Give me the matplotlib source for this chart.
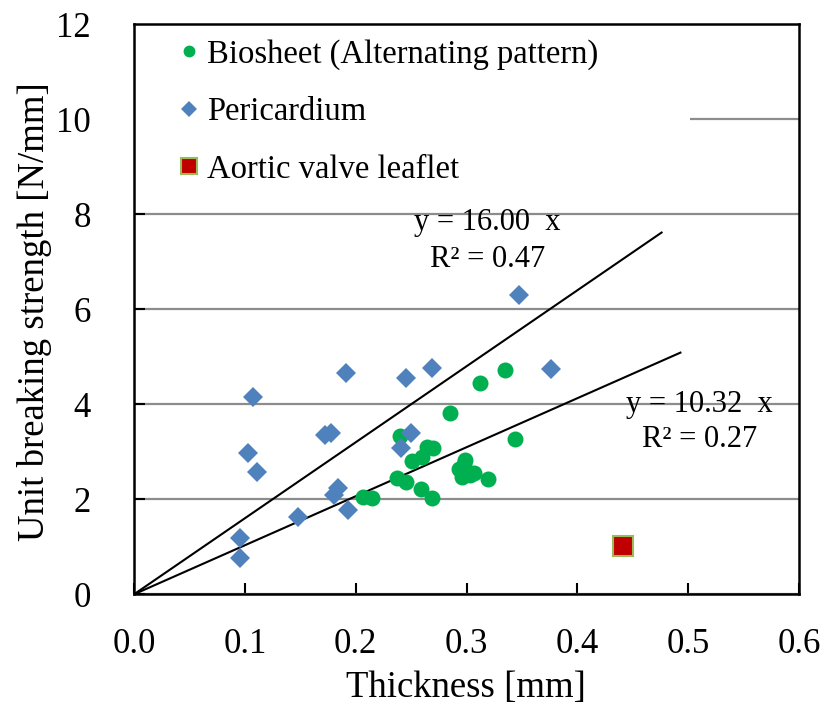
"""
Unit breaking strength vs thickness scatter chart.
"""

import matplotlib
matplotlib.use("Agg")
import matplotlib.pyplot as plt

plt.rcParams["font.family"] = ["Liberation Serif", "DejaVu Serif"]

# Biosheet (Alternating pattern)
bio_x = [0.335, 0.3125, 0.285, 0.3435, 0.240, 0.264, 0.270, 0.251, 0.260, 0.299,
         0.293, 0.296, 0.303, 0.307, 0.319, 0.237, 0.245, 0.259, 0.269, 0.207,
         0.215, 0.298]
bio_y = [4.72, 4.45, 3.82, 3.26, 3.33, 3.11, 3.07, 2.81, 2.90, 2.83,
         2.63, 2.46, 2.52, 2.56, 2.42, 2.44, 2.37, 2.22, 2.02, 2.05,
         2.02, 2.75]

# Pericardium
peri_x = [0.107, 0.103, 0.111, 0.096, 0.096, 0.172, 0.178, 0.184, 0.180,
          0.148, 0.193, 0.250, 0.241, 0.191, 0.245, 0.269, 0.376, 0.347]
peri_y = [4.16, 2.98, 2.58, 1.18, 0.76, 3.35, 3.39, 2.23, 2.09,
          1.63, 1.77, 3.39, 3.09, 4.65, 4.55, 4.76, 4.74, 6.30]

# Aortic valve leaflet
aortic_x = [0.441]
aortic_y = [1.02]

# Trend lines through origin
slopes = [16.00, 10.32]
r2_values = [0.47, 0.27]
line_x_end = [0.476, 0.493]

x_ticks = [0.0, 0.1, 0.2, 0.3, 0.4, 0.5, 0.6]
y_ticks = [0, 2, 4, 6, 8, 10, 12]

fig = plt.figure(figsize=(8.22, 7.11), dpi=100)
ax = fig.add_axes([134 / 822, 1 - 594.3 / 711, 665 / 822, 570 / 711])

ax.set_xlim(0, 0.6)
ax.set_ylim(0, 12)
ax.set_xticks(x_ticks)
ax.set_xticklabels([f"{v:.1f}" for v in x_ticks])
ax.set_yticks(y_ticks)
ax.set_yticklabels([str(v) for v in y_ticks])
ax.tick_params(axis="x", direction="in", length=8, width=1.5, pad=24, labelsize=25)
ax.tick_params(axis="y", direction="in", length=8, width=1.5, pad=31, labelsize=25)

ax.set_axisbelow(True)
ax.yaxis.grid(True, color="#8c8c8c", linewidth=1.6)
for spine in ax.spines.values():
    spine.set_linewidth(1.8)
    spine.set_color("black")

# trend lines
for slope, x_end in zip(slopes, line_x_end):
    ax.plot([0, x_end], [0, slope * x_end], color="black", linewidth=1.5, zorder=2)

ax.plot(bio_x, bio_y, linestyle="none", marker="o", markersize=11.5,
        color="#00b050", markeredgewidth=0, label="Biosheet (Alternating pattern)", zorder=3)
ax.plot(peri_x, peri_y, linestyle="none", marker="D", markersize=10,
        color="#4f81bd", markeredgewidth=0, label="Pericardium", zorder=3)
ax.plot(aortic_x, aortic_y, linestyle="none", marker="s", markersize=15,
        markerfacecolor="#c00000", markeredgecolor="#9bbb59", markeredgewidth=1.5,
        label="Aortic valve leaflet", zorder=3)

ax.text(0.319, 7.82, f"y = {slopes[0]:.2f}  x", fontsize=22, ha="center", va="center")
ax.text(0.319, 7.04, f"R² = {r2_values[0]:.2f}", fontsize=22, ha="center", va="center")
ax.text(0.510, 3.99, f"y = {slopes[1]:.2f}  x", fontsize=22, ha="center", va="center")
ax.text(0.510, 3.25, f"R² = {r2_values[1]:.2f}", fontsize=22, ha="center", va="center")

# white legend box from the y axis to about x = 0.5, hiding the grid line at 10
leg = ax.legend(loc="upper left", bbox_to_anchor=(0.0, 0, 0.836, 1.008), mode="expand",
                borderaxespad=0, fontsize=23.5, frameon=True, facecolor="white",
                edgecolor="none", framealpha=1, fancybox=False, borderpad=0.6,
                labelspacing=0.82, handlelength=2.2, handletextpad=-0.55)
leg.set_zorder(2.45)
for handle, size in zip(leg.legend_handles, [8.5, 8.5, 12]):
    handle.set_markersize(size)

fig.text(35 / 822, 1 - 312 / 711, "Unit breaking strength [N/mm]", rotation=90,
         fontsize=26.5, ha="center", va="center")
fig.text(466 / 822, 1 - 688 / 711, "Thickness [mm]", fontsize=26.5, ha="center", va="center")

fig.savefig("out.png", dpi=100)
